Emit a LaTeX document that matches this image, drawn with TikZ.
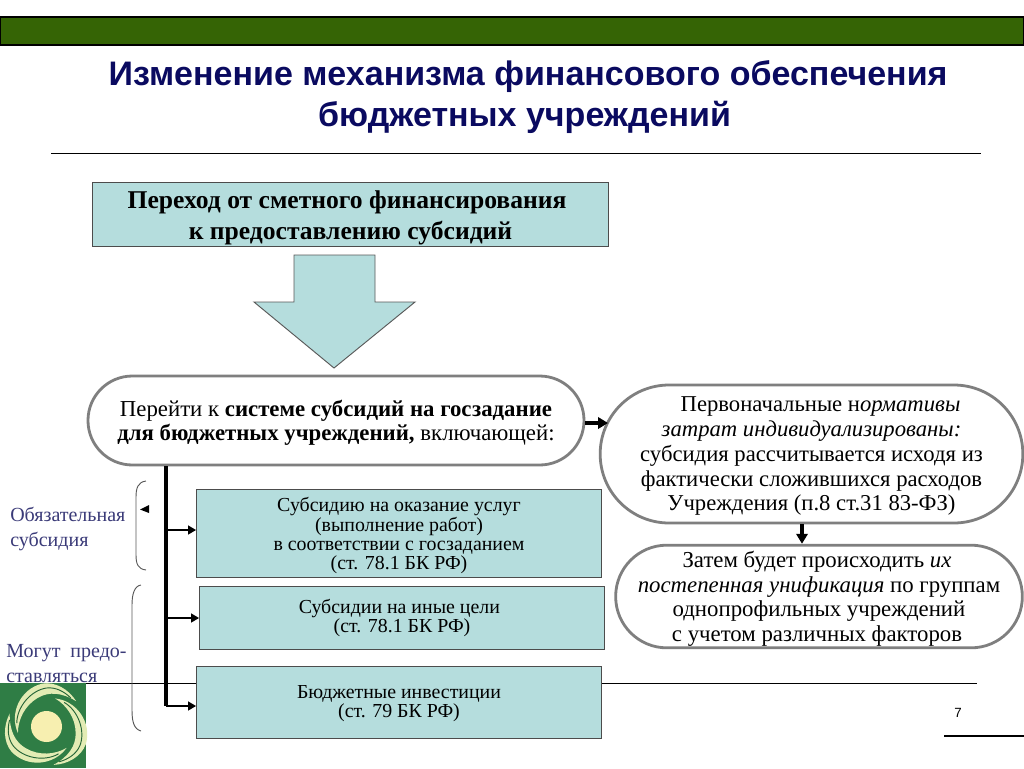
\documentclass[tikz,border=0pt]{standalone}
\usepackage{fontspec}
\setmainfont{Liberation Serif}
\newfontfamily\titlefont{Liberation Sans}
\usetikzlibrary{arrows.meta,calc}
\definecolor{barG}{HTML}{356405}
\definecolor{boxC}{HTML}{B5DDDD}
\definecolor{titleC}{HTML}{0A0A60}
\definecolor{sideC}{HTML}{3A3A78}
\definecolor{ovalC}{HTML}{7F7F7F}
\definecolor{logoG}{HTML}{2F7D45}
\definecolor{logoY}{HTML}{F7EFB0}
\definecolor{logoL}{HTML}{E3ECB4}
\newcommand{\dn}[1]{\rule{0pt}{#1pt}}
\tikzset{
  x=0.75pt,y=-0.75pt,
  box/.style={draw=black!70,fill=boxC,line width=0.8pt,inner sep=0pt,align=center},
  oval/.style={draw=ovalC,fill=white,line width=2.1pt,align=center,inner sep=0pt},
  conn/.style={line width=2pt,-{Triangle[length=6pt,width=6.5pt]}},
  connbig/.style={line width=3pt,-{Triangle[length=7.5pt,width=8.5pt]}},
  rule/.style={line width=0.7pt,draw=black},
  txt/.style={align=center,inner sep=0pt},
  brace/.style={draw=black!65,line width=0.7pt},
  sidetxt/.style={inner sep=0pt,text=sideC,align=left,font=\fontsize{15}{18.4}\selectfont}
}
\begin{document}
\begin{tikzpicture}
\useasboundingbox (0,0) rectangle (1024,768);
\fill[white] (0,0) rectangle (1024,768);
% top bar
\draw[draw=black,fill=barG,line width=0.8pt] (0,17) rectangle (1024,45);
% title
\node[txt,text=titleC,font=\titlefont\bfseries\fontsize{25.5}{30.75}\selectfont] (title) at (528,97.5) {Изменение механизма финансового обеспечения\\бюджетных учреждений\hspace*{5.2pt}};
\draw[rule] (51,153) -- (981,153);
% head box
\node[box,minimum width=387pt,minimum height=48.5pt,font=\bfseries\fontsize{19.2}{23.25}\selectfont] (head) at (350.5,214.5) {\dn{19}Переход от сметного финансирования\hspace*{5.2pt}\\к предоставлению субсидий};
% big arrow
\draw[draw=black!65,fill=boxC,line width=0.7pt] (294,255) -- (375,255) -- (375,302) -- (415,302) -- (334,368) -- (254,302) -- (294,302) -- cycle;
% ovals
\node[oval,rounded corners=33.3pt,minimum width=372pt,minimum height=66.75pt,font=\fontsize{17.1}{18}\selectfont] (o1) at (336,420.5) {\dn{16}Перейти к \textbf{системе субсидий на госзадание}\\\textbf{для бюджетных учреждений,} включающей:};
\node[oval,rounded corners=51.7pt,minimum width=317pt,minimum height=103.5pt,font=\fontsize{17}{18.6}\selectfont] (o2) at (811.5,454) {\dn{14.6}\hspace*{13.5pt}Первоначальные н\textit{ормативы}\\\textit{затрат индивидуализированы:}\hspace*{6pt}\\субсидия рассчитывается исходя из\hspace*{9.5pt}\\фактически сложившихся расходов\\Учреждения (п.8 ст.31 83-ФЗ)};
\node[oval,rounded corners=38.4pt,minimum width=305pt,minimum height=77pt,font=\fontsize{17.1}{18.4}\selectfont] (o3) at (819,596.5) {\dn{16}Затем будет происходить \textit{их}\hspace*{3pt}\\\textit{постепенная унификация} по группам\hspace*{3pt}\\однопрофильных учреждений\hspace*{3pt}\\с учетом различных факторов\hspace*{3pt}};
% side text (under rule and logo)
\node[anchor=west,sidetxt] (s1) at (10,529) {Обязательная\\субсидия};
\node[anchor=base west,sidetxt] (s2) at (6,657) {Могут\ \ предо-};
\node[anchor=base west,sidetxt] (s3) at (6,682) {ставляться};
% boxes
\node[box,minimum width=303.5pt,minimum height=66.5pt,font=\fontsize{14.9}{14.4}\selectfont] (b1) at (399,533.5) {\dn{14}Субсидию на оказание услуг\\(выполнение работ)\\в соответствии с госзаданием\\(ст. 78.1 БК РФ)};
\node[box,minimum width=303.5pt,minimum height=47.5pt,font=\fontsize{14.9}{14.8}\selectfont] (b2) at (402,618) {Субсидии на иные цели\hspace*{4pt}\\(ст. 78.1 БК РФ)};
% footer rule
\draw[rule] (0,683) -- (977,683);
\node[box,minimum width=303.5pt,minimum height=54.5pt,font=\fontsize{14.9}{14.4}\selectfont] (b3) at (399,702.5) {\dn{11.7}Бюджетные инвестиции\\(ст. 79 БК РФ)};
% connectors
\coordinate (trunkTop) at (o1.south -| 166,0);
\coordinate (trunkBot) at (166,706);
\coordinate (j1) at (166,530);
\coordinate (j2) at (166,618);
\draw[line width=2.4pt] (trunkTop) -- (trunkBot);
\draw[conn] (j1) -- (j1 -| b1.west);
\draw[conn] (j2) -- (j2 -| b2.west);
\draw[conn] (trunkBot) -- (trunkBot -| b3.west);
\coordinate (a1s) at (o1.east |- 0,423);
\coordinate (a1e) at (608,423);
\draw[connbig] (a1s) -- (a1e);
\coordinate (a2s) at (802,0 |- o2.south);
\coordinate (a2e) at (802,0 |- o3.north);
\draw[connbig] (a2s) -- (a2e);
% braces
\draw[brace] (146,481) .. controls (138,482) and (136,488) .. (136,497) -- (136,555) .. controls (136,564) and (138,569) .. (146,570);
\draw[brace] (141,585) .. controls (134,586) and (132,595) .. (132,605) -- (132,710) .. controls (132,722) and (134,729) .. (141,731);
\fill[black] (140,509.5) -- (149,505) -- (149,513) -- cycle;
% logo
\fill[logoG] (0,683) rectangle (86,768);
\begin{scope}[shift={(46.5,726.5)}]
  \foreach \a in {0,120,240}{
    \begin{scope}[rotate=\a,scale=1.1]
      \fill[logoL] (-26,6) .. controls (-34,-12) and (-24,-34) .. (-4,-39) .. controls (8,-41) and (20,-34) .. (27,-23) .. controls (14,-31) and (2,-32) .. (-8,-26) .. controls (-20,-19) and (-26,-6) .. (-26,6) -- cycle;
      \draw[logoG!80!black,line width=0.7pt] (-27,-3) .. controls (-27,-18) and (-14,-33) .. (0,-35) .. controls (8,-36) and (16,-32) .. (22,-26);
    \end{scope}
  }
  \fill[logoY] (0,0) circle (15.5);
\end{scope}
% page number and corner rule
\node[inner sep=0pt,font=\titlefont\fontsize{10}{12}\selectfont] (pg) at (958,713) {7};
\draw[line width=1.6pt] (944,736) -- (1024,736);
\end{tikzpicture}
\end{document}
